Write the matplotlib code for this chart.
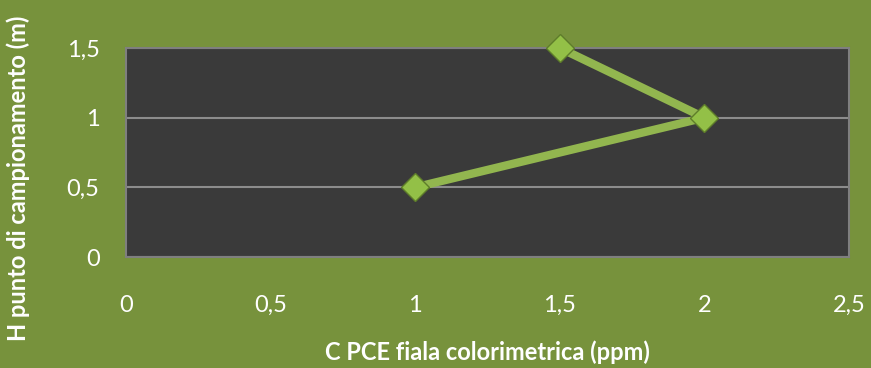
import matplotlib.pyplot as plt
from matplotlib.ticker import FuncFormatter

# Campionamento PCE: concentrazione vs altezza
conc_ppm = [1.5, 2.0, 1.0]
altezza_m = [1.5, 1.0, 0.5]
x_ticks = [0, 0.5, 1, 1.5, 2, 2.5]
y_ticks = [0, 0.5, 1, 1.5]

bg = "#77923c"
plt.rcParams["font.family"] = ["Lato", "DejaVu Sans"]


def virgola(v, pos):
    # decimali all'italiana
    return ("%g" % v).replace(".", ",")


fig = plt.figure(figsize=(8.71, 3.68), dpi=100, facecolor=bg)
ax = fig.add_axes([126 / 871, 1 - 257 / 368, 723 / 871, 209 / 368])
ax.set_facecolor("#3a3a3a")

ax.plot(conc_ppm, altezza_m, color="#92b64f", lw=6, solid_capstyle="butt",
        marker="D", ms=14, mfc="#93c047", mec="#5e7d2a", mew=1, zorder=3,
        clip_on=False)

ax.set_xlim(0, 2.5)
ax.set_ylim(0, 1.5)
ax.set_xticks(x_ticks)
ax.set_yticks(y_ticks)
ax.xaxis.set_major_formatter(FuncFormatter(virgola))
ax.yaxis.set_major_formatter(FuncFormatter(virgola))
ax.tick_params(length=0, labelcolor="white", labelsize=17)
ax.tick_params(axis="x", pad=27)
ax.tick_params(axis="y", pad=19)
ax.grid(axis="y", color="#8c8c8c", lw=1.5)
ax.set_axisbelow(True)
for s in ax.spines.values():
    s.set_color("#7f7f7f")
    s.set_linewidth(1.5)

ax.set_xlabel("C PCE fiala colorimetrica (ppm)", color="white",
              fontsize=17, fontweight="bold")
ax.set_ylabel("H punto di campionamento (m)", color="white",
              fontsize=17, fontweight="bold")
ax.xaxis.set_label_coords(0.5, -(352 - 257) / 209, transform=ax.transAxes)
ax.yaxis.set_label_coords(-(126 - 18) / 723, (257 - 178) / 209,
                          transform=ax.transAxes)
ax.xaxis.label.set_va("center")
ax.yaxis.label.set_va("center")

fig.savefig("out.png", facecolor=bg)
